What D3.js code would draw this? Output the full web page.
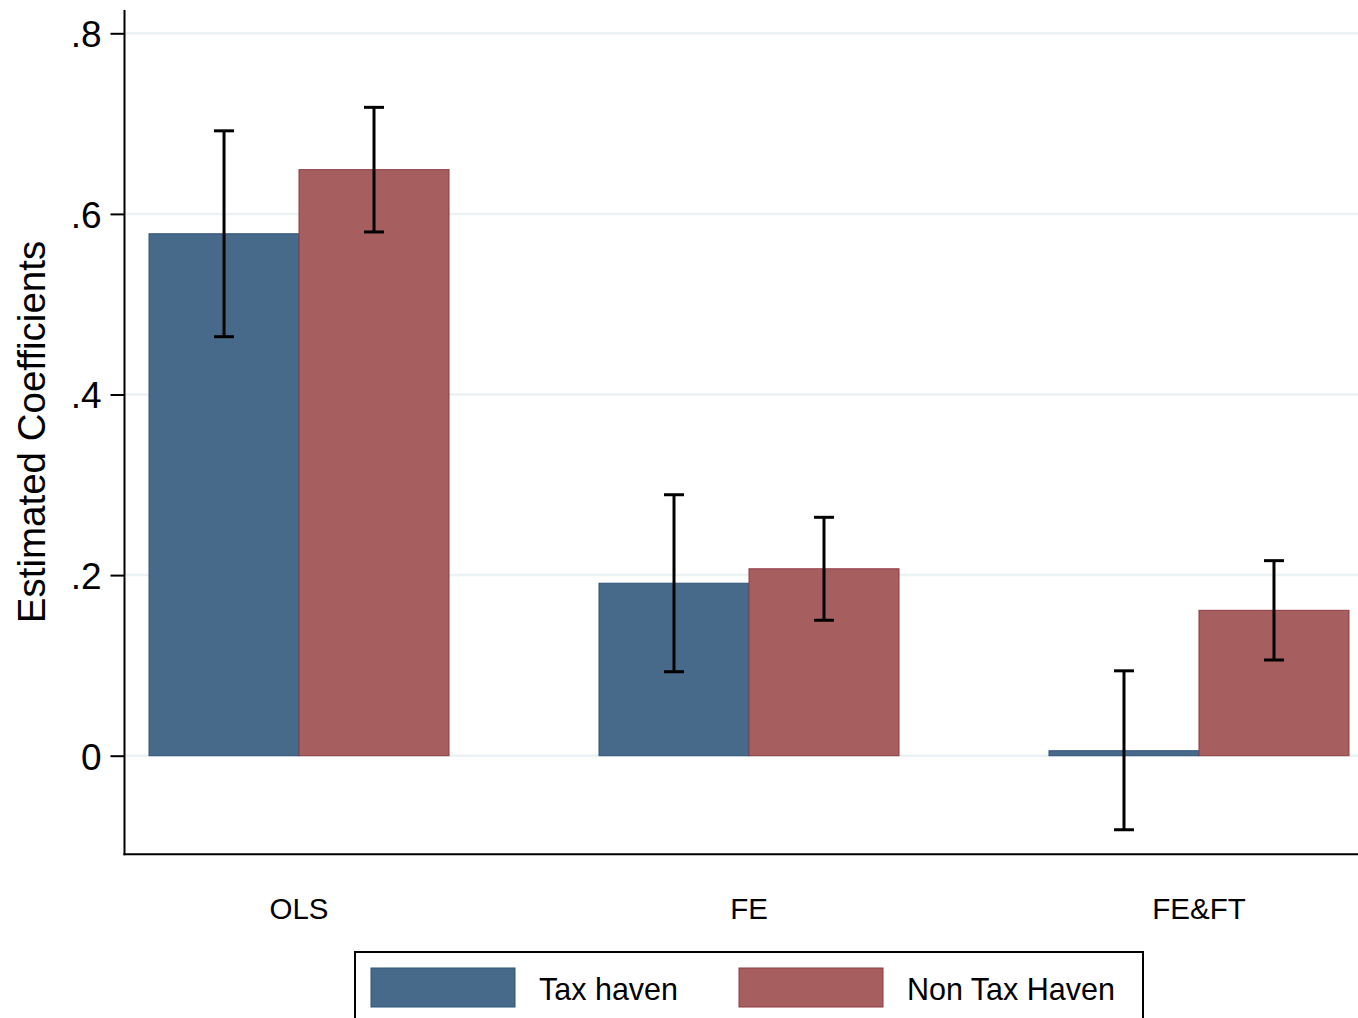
<!DOCTYPE html>
<html>
<head>
<meta charset="utf-8">
<script src="https://cdn.jsdelivr.net/npm/d3@7"></script>
<style>
  html, body { margin: 0; padding: 0; background: #ffffff; }
  svg { display: block; font-family: "Liberation Sans", Arial, Helvetica, sans-serif; }
</style>
</head>
<body>
<svg id="chart" width="1358" height="1018"></svg>
<script>
// Estimated coefficients by estimator, with confidence intervals
const categories = ["OLS", "FE", "FE&FT"];
const seriesNames = ["Tax haven", "Non Tax Haven"];
const taxHaven     = [0.578, 0.191, 0.0055];
const taxHavenLo   = [0.464, 0.093, -0.082];
const taxHavenHi   = [0.692, 0.289, 0.094];
const nonTaxHaven   = [0.649, 0.207, 0.161];
const nonTaxHavenLo = [0.580, 0.150, 0.106];
const nonTaxHavenHi = [0.718, 0.264, 0.216];
const yTicks = [0, 0.2, 0.4, 0.6, 0.8];
const yTickLabels = ["0", ".2", ".4", ".6", ".8"];

const colors = { fill: ["#486a8a", "#a65e5f"], edge: ["#2f5479", "#8f3a44"] };

const svg = d3.select("#chart");
const left = 124.5, right = 1374, bottomY = 854.3, topY = 10;

const y = d3.scaleLinear().domain([0, 0.8]).range([755.7, 33.3]);
const x = d3.scaleBand().domain(categories).range([left - 0.5, right])
  .paddingInner(1 / 3).paddingOuter(0.0556);
const xs = d3.scaleBand().domain(seriesNames).range([0, x.bandwidth()]);

const rows = [];
categories.forEach((c, i) => {
  rows.push({ cat: c, s: seriesNames[0], k: 0, v: taxHaven[i], lo: taxHavenLo[i], hi: taxHavenHi[i] });
  rows.push({ cat: c, s: seriesNames[1], k: 1, v: nonTaxHaven[i], lo: nonTaxHavenLo[i], hi: nonTaxHavenHi[i] });
});

// gridlines
svg.append("g").selectAll("line").data(yTicks).join("line")
  .attr("x1", left).attr("x2", 1358)
  .attr("y1", d => y(d)).attr("y2", d => y(d))
  .attr("stroke", "#eaf2f3").attr("stroke-width", 2.5);

// bars
svg.append("g").selectAll("rect").data(rows).join("rect")
  .attr("x", d => x(d.cat) + xs(d.s))
  .attr("width", xs.bandwidth())
  .attr("y", d => Math.min(y(d.v), y(0)))
  .attr("height", d => Math.abs(y(0) - y(d.v)))
  .attr("fill", d => colors.fill[d.k])
  .attr("stroke", d => colors.edge[d.k])
  .attr("stroke-width", 1);

// confidence intervals
const capW = 20;
const eb = svg.append("g").attr("stroke", "#000").attr("stroke-width", 3);
rows.forEach(d => {
  const cx = x(d.cat) + xs(d.s) + xs.bandwidth() / 2;
  eb.append("line").attr("x1", cx).attr("x2", cx).attr("y1", y(d.lo)).attr("y2", y(d.hi));
  eb.append("line").attr("x1", cx - capW / 2).attr("x2", cx + capW / 2).attr("y1", y(d.lo)).attr("y2", y(d.lo));
  eb.append("line").attr("x1", cx - capW / 2).attr("x2", cx + capW / 2).attr("y1", y(d.hi)).attr("y2", y(d.hi));
});

// y axis
const yAxis = d3.axisLeft(y).tickValues(yTicks)
  .tickFormat((d, i) => yTickLabels[i]).tickSize(14).tickPadding(9);
const gy = svg.append("g").attr("transform", `translate(${left},0)`).call(yAxis);
gy.select(".domain").remove();
gy.selectAll(".tick line").attr("stroke", "#000").attr("stroke-width", 2);
gy.selectAll(".tick text").attr("font-size", 37).attr("fill", "#000")
  .attr("font-family", "'Liberation Sans', Arial, sans-serif").attr("dy", "0.36em");
svg.append("line").attr("x1", left).attr("x2", left).attr("y1", topY).attr("y2", bottomY + 1)
  .attr("stroke", "#000").attr("stroke-width", 2);

// x axis
svg.append("line").attr("x1", left - 1).attr("x2", 1358).attr("y1", bottomY).attr("y2", bottomY)
  .attr("stroke", "#000").attr("stroke-width", 2);
svg.append("g").selectAll("text").data(categories).join("text")
  .attr("x", d => x(d) + x.bandwidth() / 2)
  .attr("y", 919)
  .attr("text-anchor", "middle")
  .attr("font-size", 29.5)
  .attr("fill", "#000")
  .text(d => d);

// y title
svg.append("text")
  .attr("transform", "translate(45,432) rotate(-90)")
  .attr("text-anchor", "middle")
  .attr("font-size", 38.5)
  .attr("fill", "#000")
  .text("Estimated Coefficients");

// legend
const lg = svg.append("g");
lg.append("rect").attr("x", 355).attr("y", 952).attr("width", 788).attr("height", 90)
  .attr("fill", "#fff").attr("stroke", "#000").attr("stroke-width", 2);
const legendX = [371, 739];
seriesNames.forEach((s, k) => {
  lg.append("rect").attr("x", legendX[k]).attr("y", 968).attr("width", 144).attr("height", 39)
    .attr("fill", colors.fill[k]).attr("stroke", colors.edge[k]).attr("stroke-width", 1);
  lg.append("text").attr("x", legendX[k] + 168).attr("y", 1000)
    .attr("font-size", 30.5).attr("fill", "#000").text(s);
});
</script>
</body>
</html>
